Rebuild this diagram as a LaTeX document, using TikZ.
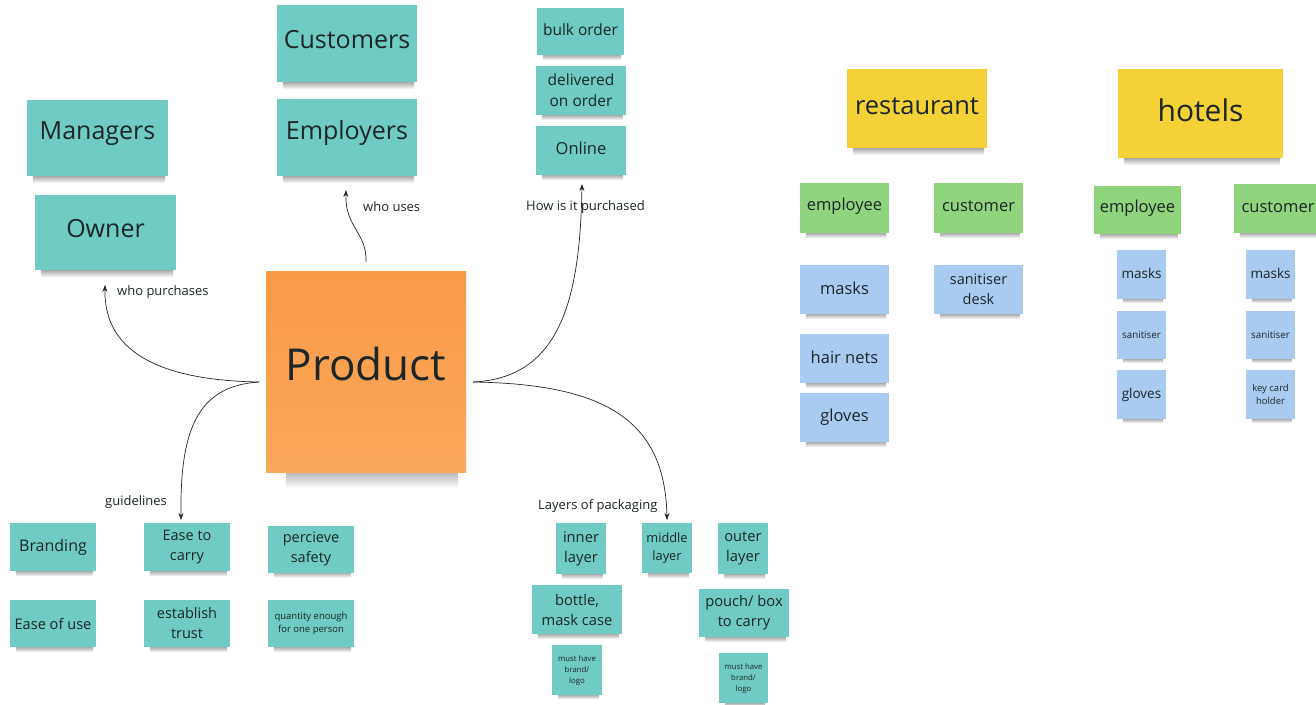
\documentclass[tikz,border=0pt]{standalone}
\usepackage{fontspec}
\setmainfont{Open Sans}
\usetikzlibrary{arrows.meta,backgrounds}
\definecolor{tealn}{HTML}{6FCBC3}
\definecolor{orangen}{HTML}{FA9E4D}
\definecolor{orangetop}{HTML}{F99A47}
\definecolor{orangebot}{HTML}{FBA85C}
\definecolor{yellown}{HTML}{F4D137}
\definecolor{greenn}{HTML}{90D47E}
\definecolor{bluen}{HTML}{A9CBF2}
\definecolor{txt}{HTML}{1C2626}
\newcommand\fsz[2]{\fontsize{#1}{#2}\selectfont}
\newcommand\up[2]{\raisebox{#1}[\height][\depth]{#2}}
\tikzset{
  note/.style={fill=#1, draw=none, inner sep=1pt, align=center, text=txt},
  sz/.style 2 args={minimum width=#1pt, minimum height=#2pt},
  conn/.style={draw=black!85, line width=0.7pt, -{Stealth[length=7pt,width=5pt]}},
  lbl/.style={text=txt, inner sep=0pt, anchor=west, font=\fsz{13}{16}},
  shadowstrip/.style={top color=black!38, bottom color=white, draw=none}
}
\begin{document}
\begin{tikzpicture}[x=1pt,y=-1pt]
\useasboundingbox (0,0) rectangle (1316,704);

% top-left cluster
\node[note=tealn, sz={140}{77}, font=\fsz{25}{30}] (customers) at (347,43.5) {\up{4pt}{Customers}};
\node[note=tealn, sz={140}{77}, font=\fsz{25}{30}] (employers) at (347,137.5) {\up{4pt}{Employers}};
\node[note=tealn, sz={141}{76}, font=\fsz{25}{30}] (managers) at (97.5,138) {\up{4pt}{Managers}};
\node[note=tealn, sz={141}{75}, font=\fsz{25}{30}] (owner) at (105.5,232.5) {\up{4pt}{Owner}};

% purchase
\node[note=tealn, sz={87}{47}, font=\fsz{15.5}{21}] (bulk) at (580.5,31.5) {\up{2pt}{bulk order}};
\node[note=tealn, sz={90}{49}, font=\fsz{15.5}{21}] (delivered) at (581,90.5) {delivered\\on order};
\node[note=tealn, sz={90}{49}, font=\fsz{16.5}{22}] (online) at (581,150.5) {\up{2pt}{Online}};

% product
\node[note=orangen, top color=orangetop, bottom color=orangebot, sz={200}{201}, font=\fsz{44}{52}] (product) at (366,371.5) {\up{8pt}{Product}};

% guidelines
\node[note=tealn, sz={86}{48}, font=\fsz{16}{21}] (branding) at (53,547) {Branding};
\node[note=tealn, sz={86}{48}, font=\fsz{14.5}{20}] (easecarry) at (187,547) {Ease to\\carry};
\node[note=tealn, sz={86}{47}, font=\fsz{14.5}{20}] (percieve) at (311,549) {percieve\\safety};
\node[note=tealn, sz={86}{47}, font=\fsz{14.6}{20}] (easeuse) at (53,623.5) {Ease of use};
\node[note=tealn, sz={86}{47}, font=\fsz{14.5}{20}] (trust) at (187,623.5) {establish\\trust};
\node[note=tealn, sz={86}{47}, font=\fsz{9.5}{13}] (quantity) at (311,623.5) {quantity enough\\for one person};

% packaging
\node[note=tealn, sz={50}{51}, font=\fsz{14.7}{20}] (inner) at (581,548.5) {inner\\layer};
\node[note=tealn, sz={50}{50}, font=\fsz{12.8}{18}] (middle) at (667,548) {middle\\layer};
\node[note=tealn, sz={50}{51}, font=\fsz{14.7}{20}] (outer) at (743,548.5) {outer\\layer};
\node[note=tealn, sz={90}{49}, font=\fsz{14.7}{20}] (bottle) at (577,609.5) {bottle,\\mask case};
\node[note=tealn, sz={90}{48}, font=\fsz{14.7}{20}] (pouch) at (744,613) {pouch/ box\\to carry};
\node[note=tealn, sz={50}{50}, font=\fsz{7.8}{11}] (musthaveA) at (577,670) {must have\\brand/\\logo};
\node[note=tealn, sz={49}{50}, font=\fsz{7.8}{11}] (musthaveB) at (743.5,678) {must have\\brand/\\logo};

% restaurant
\node[note=yellown, sz={140}{79}, font=\fsz{25.5}{30}] (restaurant) at (917,108.5) {\up{2pt}{restaurant}};
\node[note=greenn, sz={89}{50}, font=\fsz{16.5}{22}] (remp) at (844.5,208) {\up{1.5pt}{employee}};
\node[note=greenn, sz={89}{50}, font=\fsz{16.5}{22}] (rcust) at (978.5,208) {\up{1.5pt}{customer}};
\node[note=bluen, sz={89}{49}, font=\fsz{16.5}{22}] (rmasks) at (844.5,289.5) {\up{1.5pt}{masks}};
\node[note=bluen, sz={89}{49}, font=\fsz{16.5}{22}] (rhair) at (844.5,358.5) {\up{1.5pt}{hair nets}};
\node[note=bluen, sz={89}{49}, font=\fsz{16.5}{22}] (rgloves) at (844.5,417.5) {gloves};
\node[note=bluen, sz={89}{49}, font=\fsz{14.5}{20}] (rsan) at (978.5,289.5) {sanitiser\\desk};

% hotels
\node[note=yellown, sz={165}{89}, font=\fsz{30}{36}] (hotels) at (1200.5,113.5) {\up{3.5pt}{hotels}};
\node[note=greenn, sz={87}{48}, font=\fsz{16.5}{22}] (hemp) at (1137.5,210) {\up{1.5pt}{employee}};
\node[note=greenn, sz={88}{49}, font=\fsz{16.5}{22}] (hcust) at (1278,208.5) {\up{1.5pt}{customer}};
\node[note=bluen, sz={49}{49}, font=\fsz{13.5}{18}] (hmasks) at (1141.5,274.5) {\up{1.5pt}{masks}};
\node[note=bluen, sz={49}{48}, font=\fsz{9.8}{13}] (hsan) at (1141.5,335) {sanitiser};
\node[note=bluen, sz={49}{49}, font=\fsz{13.5}{18}] (hgloves) at (1141.5,394.5) {gloves};
\node[note=bluen, sz={49}{49}, font=\fsz{13.5}{18}] (cmasks) at (1270.5,274.5) {\up{1.5pt}{masks}};
\node[note=bluen, sz={49}{48}, font=\fsz{9.8}{13}] (csan) at (1270.5,335) {sanitiser};
\node[note=bluen, sz={49}{49}, font=\fsz{9.5}{13}] (ckey) at (1270.5,394.5) {key card\\holder};

% labels
\node[lbl] (lpurch) at (117,292) {who purchases};
\node[lbl] (luses) at (363,207) {who uses};
\node[lbl] (lhow) at (526,207) {How is it purchased};
\node[lbl] (lguide) at (105,502) {guidelines};
\node[lbl] (llayers) at (538,506) {Layers of packaging};

% soft shadows under the notes
\begin{pgfonlayer}{background}
  \fill[white] (0,0) rectangle (1316,704);
  \foreach \n/\d in {customers/7,employers/7,managers/7,owner/7,bulk/5,delivered/5,online/5,
    branding/5,easecarry/5,percieve/5,easeuse/5,trust/5,quantity/5,
    inner/5,middle/5,outer/5,bottle/5,pouch/5,musthaveA/4,musthaveB/4,
    restaurant/7,remp/5,rcust/5,rmasks/5,rhair/5,rgloves/5,rsan/5,
    hotels/7,hemp/5,hcust/5,hmasks/4,hsan/4,hgloves/4,cmasks/4,csan/4,ckey/4}
  {\shade[shadowstrip] ([xshift=6pt,yshift=1pt]\n.south west) rectangle ([xshift=-3pt,yshift=-\d pt]\n.south east);}
  \shade[top color=black!30, bottom color=white] ([xshift=20pt,yshift=1pt]product.south west) rectangle ([xshift=-8pt,yshift=-16pt]product.south east);
\end{pgfonlayer}

% connector end points
\coordinate (pL) at (259,382);
\coordinate (pR) at (473,382);
\coordinate (pT) at (366,262);
\coordinate (tPurch) at (105,285);
\coordinate (tUses) at (346,190);
\coordinate (tHow) at (582,184);
\coordinate (tGuide) at (181,520);
\coordinate (tLayers) at (667,520);

\draw[conn] (pL) .. controls (140,380) and (104,340) .. (tPurch);
\draw[conn] (pT) .. controls (367,232) and (345,228) .. (tUses);
\draw[conn] (pR) .. controls (560,378) and (580,300) .. (tHow);
\draw[conn] (pL) .. controls (196,386) and (180,432) .. (tGuide);
\draw[conn] (pR) .. controls (605,384) and (665,420) .. (tLayers);
\end{tikzpicture}
\end{document}
